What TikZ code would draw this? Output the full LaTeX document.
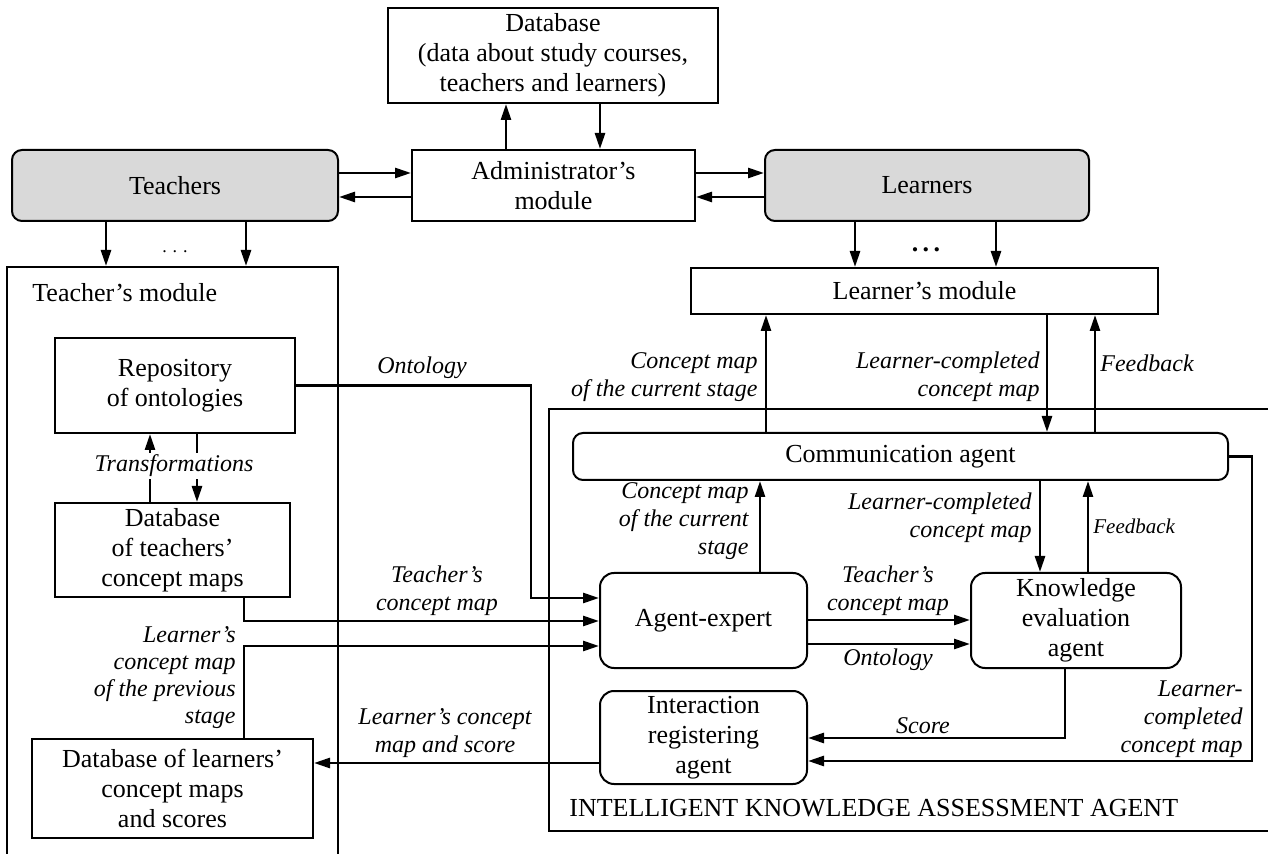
\documentclass[tikz,border=0pt]{standalone}
\usepackage{fontspec}
\setmainfont{Liberation Serif}
\usetikzlibrary{arrows.meta}
\definecolor{actorgray}{RGB}{217,217,217}
\tikzset{
  box/.style={draw, line width=1pt, inner sep=0pt, align=center, font=\fontsize{13}{15}\selectfont},
  rbox/.style={box, rounded corners=7pt},
  actor/.style={box, rounded corners=5pt, fill=actorgray},
  arr/.style={line width=1.3pt, -{Triangle[length=8pt,width=5pt]}},
  lbl/.style={inner sep=1pt, align=center, font=\fontsize{12}{14}\selectfont\itshape},
  plain/.style={inner sep=0pt, font=\fontsize{13}{15}\selectfont}
}
\begin{document}
\begin{tikzpicture}[x=0.5pt, y=-0.5pt]
			%%%%% START %%%%%
			\useasboundingbox (0,0) rectangle (1268,854);
			
			% top row
			\node[box, minimum width=165pt, minimum height=47.5pt] (db) at (553,55.5) {Database\\(data about study courses,\\teachers and learners)};
			\node[box, minimum width=141.5pt, minimum height=35.5pt] (admin) at (553.5,185.5) {Administrator's\\module};
			\node[actor, minimum width=163pt, minimum height=35.5pt] (teachers) at (175,185.5) {Teachers};
			\node[actor, minimum width=162pt, minimum height=35.5pt] (learners) at (927,185.5) {Learners};
			
			\draw[arr] (admin.north -| 506,0) -- (db.south -| 506,0);
			\draw[arr] (db.south -| 600,0) -- (admin.north -| 600,0);
			\draw[arr] (teachers.east |- 0,173) -- (admin.west |- 0,173);
			\draw[arr] (admin.west |- 0,197) -- (teachers.east |- 0,197);
			\draw[arr] (admin.east |- 0,173) -- (learners.west |- 0,173);
			\draw[arr] (learners.west |- 0,197) -- (admin.east |- 0,197);
			
			% modules
			\node[box, minimum width=165.5pt, minimum height=299pt] (tmod) at (172.5,566) {};
			\node[plain, anchor=west] (tmodlbl) at (32,293) {Teacher's module};
			\node[box, minimum width=233.5pt, minimum height=23pt] (lmod) at (924.5,291) {Learner's module};
			\node[box, minimum width=365.5pt, minimum height=211pt] (agent) at (914.5,620) {};
			\node[plain, anchor=west] (agentlbl) at (569,808) {INTELLIGENT KNOWLEDGE ASSESSMENT AGENT};
			
			\foreach \x in {106,246}
				\draw[arr] (teachers.south -| \x,0) -- (tmod.north -| \x,0);
			\foreach \x in {855,996}
				\draw[arr] (learners.south -| \x,0) -- (lmod.north -| \x,0);
			\node[plain] (tdots) at (175,252) {\fontsize{9}{9}\selectfont .\,\,.\,\,.};
			\node[plain] (ldots) at (926,250) {\bfseries .\,.\,.};
			
			% teacher's module
			\node[box, minimum width=120pt, minimum height=47.5pt] (rep) at (175,385.5) {Repository\\of ontologies};
			\node[box, minimum width=117.5pt, minimum height=47pt] (dbt) at (172.5,550) {Database\\of teachers'\\concept maps};
			\node[box, minimum width=140.5pt, minimum height=49.5pt] (dbl) at (172.5,788.5) {Database of learners'\\concept maps\\and scores};
			
			\draw[arr] (dbt.north -| 150,0) -- (rep.south -| 150,0);
			\draw[arr] (rep.south -| 197,0) -- (dbt.north -| 197,0);
			\node[lbl, fill=white] (trlbl) at (174,466) {Transformations};
			
			% agents
			\node[rbox, rounded corners=5pt, minimum width=327.5pt, minimum height=23.5pt] (comm) at (900.5,456.5) {Communication agent};
			\node[rbox, minimum width=103.5pt, minimum height=47.5pt] (expert) at (703.5,620.5) {Agent-expert};
			\node[rbox, minimum width=105pt, minimum height=47.5pt] (know) at (1076,620.5) {Knowledge\\evaluation\\agent};
			\node[rbox, minimum width=103.5pt, minimum height=46.5pt] (inter) at (703.5,737.5) {Interaction\\registering\\agent};
			
			% into the agent-expert
			\draw[arr] (rep.east) -| (531,598) -- (expert.west |- 0,598);
			\node[lbl] (ontlbl) at (422,368) {Ontology};
			\draw[arr] (dbt.south -| 244,0) |- (expert.west |- 0,621);
			\node[lbl] (tcmlbl) at (437,591) {Teacher's\\concept map};
			\draw[arr] (dbl.north -| 244,0) |- (expert.west |- 0,646);
			\node[lbl, align=right, anchor=east, font=\fontsize{12}{13.5}\selectfont\itshape] (prevlbl) at (238,677.5) {Learner's\\concept map\\of the previous\\stage};
			\draw[arr] (inter.west |- 0,763) -- (dbl.east |- 0,763);
			\node[lbl] (lcslbl) at (445,733) {Learner's concept\\map and score};
			
			% learner's module <-> communication agent
			\draw[arr] (comm.north -| 766,0) -- (lmod.south -| 766,0);
			\node[lbl, align=right, anchor=east] (cm1lbl) at (760,377) {Concept map\\of the current stage};
			\draw[arr] (lmod.south -| 1047,0) -- (comm.north -| 1047,0);
			\node[lbl, align=right, anchor=east] (lc1lbl) at (1042,377) {Learner-completed\\concept map};
			\draw[arr] (comm.north -| 1095,0) -- (lmod.south -| 1095,0);
			\node[lbl, anchor=west] (fb1lbl) at (1098,363) {Feedback};
			
			% inside the agent
			\draw[arr] (expert.north -| 760,0) -- (comm.south -| 760,0);
			\node[lbl, align=right, anchor=east] (cm2lbl) at (751,521) {Concept map\\of the current\\stage};
			\draw[arr] (comm.south -| 1040,0) -- (know.north -| 1040,0);
			\node[lbl, align=right, anchor=east] (lc2lbl) at (1034,518) {Learner-completed\\concept map};
			\draw[arr] (know.north -| 1088,0) -- (comm.south -| 1088,0);
			\node[lbl, anchor=west, font=\fontsize{10.5}{12}\selectfont\itshape] (fb2lbl) at (1091,526) {Feedback};
			
			\draw[arr] (expert.east |- 0,620) -- (know.west |- 0,620);
			\node[lbl] (tcm2lbl) at (888,591) {Teacher's\\concept map};
			\draw[arr] (expert.east |- 0,644) -- (know.west |- 0,644);
			\node[lbl] (ont2lbl) at (888,660) {Ontology};
			
			\draw[arr] (know.south -| 1065,0) |- (inter.east |- 0,738);
			\node[lbl] (scorelbl) at (923,726) {Score};
			\draw[arr] (comm.east) -| (1252,761) -- (inter.east |- 0,761);
			\node[lbl, align=right, anchor=east] (lc3lbl) at (1245,719) {Learner-\\completed\\concept map};
			%%%%% END %%%%%
\end{tikzpicture}
\end{document}
